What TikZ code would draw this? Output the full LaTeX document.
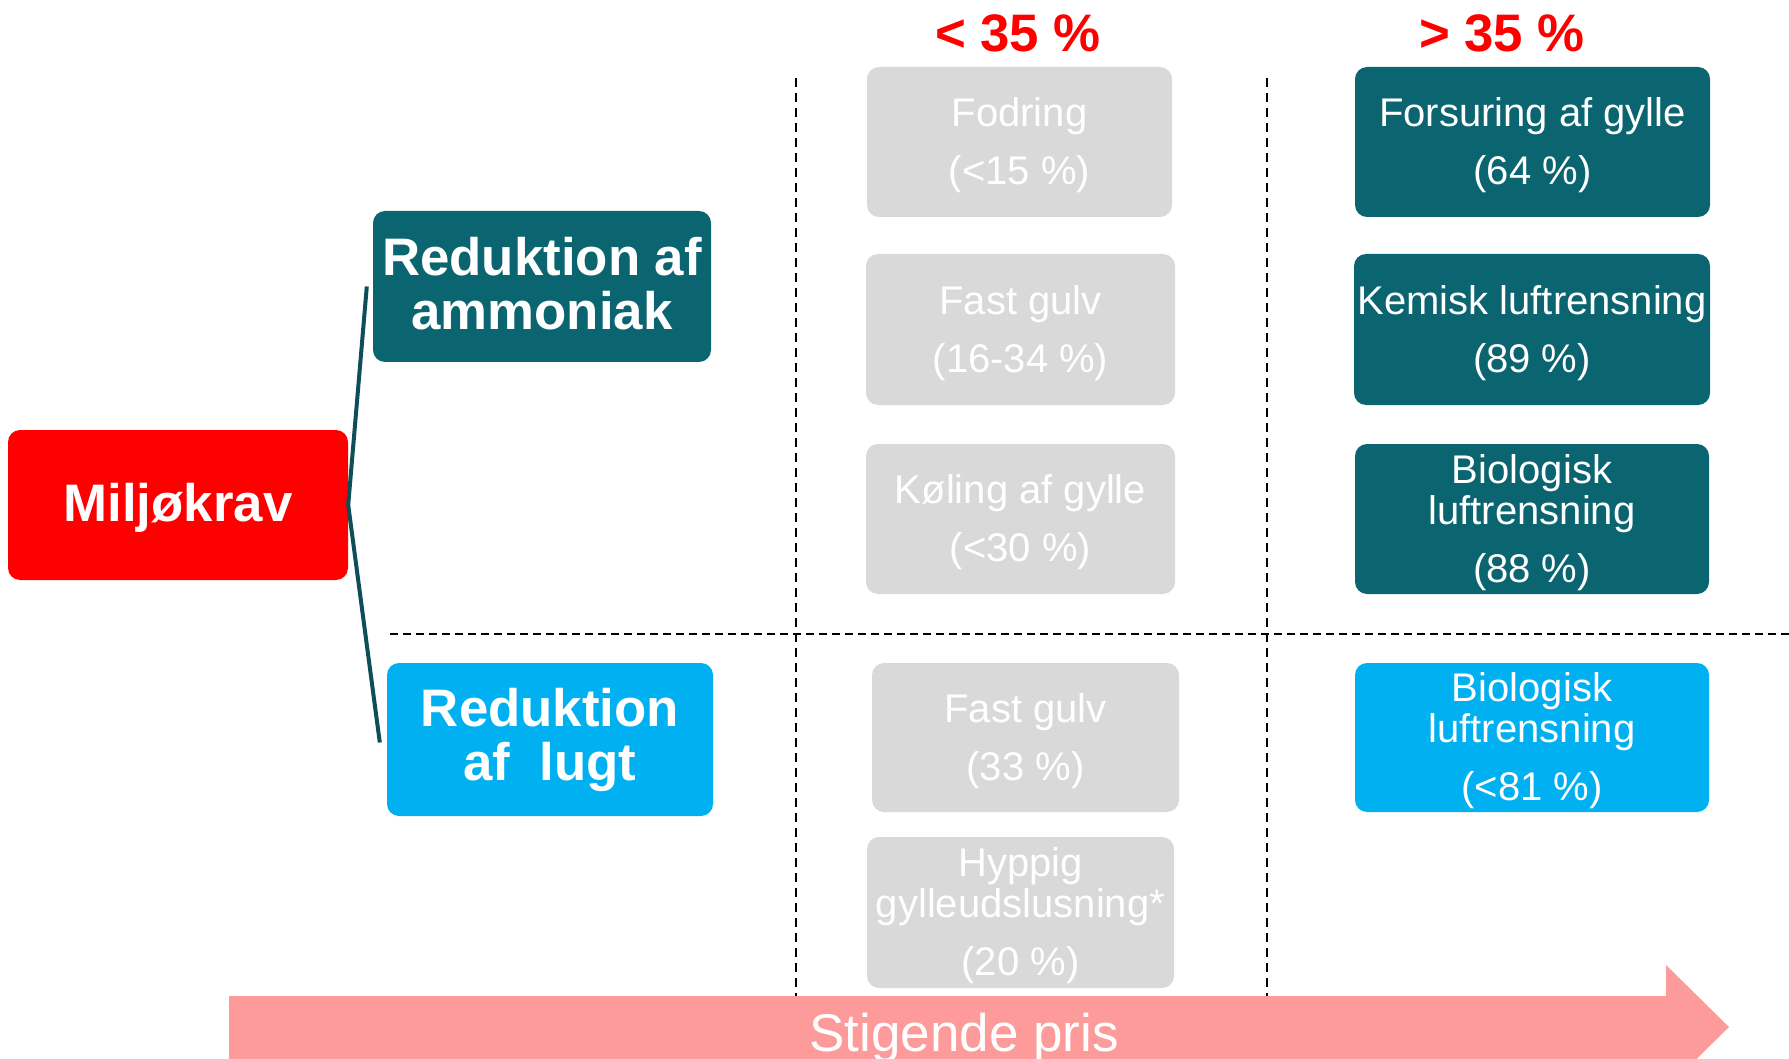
\documentclass[tikz,border=0pt]{standalone}
\usepackage{fontspec}
\setmainfont{Liberation Sans}
\definecolor{tealbox}{HTML}{0B6570}
\definecolor{tealline}{HTML}{0C4F58}
\definecolor{redbox}{HTML}{FF0000}
\definecolor{bluebox}{HTML}{00B0F0}
\definecolor{graybox}{HTML}{D9D9D9}
\definecolor{arrowpink}{HTML}{FD9B9B}
\tikzset{
  anybox/.style={rounded corners=12pt, inner sep=0pt, align=center, text=white},
  headtext/.style={inner sep=0pt, align=center, text=white, font=\fontsize{52.8}{54}\selectfont\bfseries},
  itemtext/.style={inner sep=0pt, align=center, text=white, font=\fontsize{40}{41}\selectfont, yshift=-3.5pt},
  itembox/.style={anybox},
  graystyle/.style={itembox, fill=graybox},
  tealstyle/.style={itembox, fill=tealbox},
  bluestyle/.style={itembox, fill=bluebox},
  sep/.style={black, line width=2.2pt, dash pattern=on 9pt off 6pt},
  conn/.style={tealline, line width=4pt},
  pct/.style={text=redbox, font=\fontsize{52.8}{54}\selectfont\bfseries}
}
\begin{document}
\begin{tikzpicture}[x=1pt,y=-1pt]
\useasboundingbox (0,0) rectangle (1789,1059);
\clip (0,0) rectangle (1789,1059);

% separators
\draw[sep] (796,78) -- (796,1000);
\draw[sep] (1267,78) -- (1267,1000);
\draw[sep, dash pattern=on 8pt off 5pt] (390,634) -- (1789,634);

% header labels
\node[pct] (lo) at (1018,33.5) {< 35 \%};
\node[pct] (hi) at (1502,33.5) {> 35 \%};

% left boxes
\node[anybox, fill=redbox, minimum width=340pt, minimum height=150pt, label={[headtext, yshift=-3pt]center:{Miljøkrav}}] (miljo) at (178,505) {};
\node[anybox, fill=tealbox, minimum width=338pt, minimum height=151pt, label={[headtext, yshift=2.5pt]center:{Reduktion af\\ammoniak}}] (amm) at (542,286.5) {};
\node[anybox, fill=bluebox, minimum width=326pt, minimum height=153pt, label={[headtext]center:{Reduktion\\af\ \ lugt}}] (lugt) at (550,739.5) {};

% connectors
\draw[conn] (miljo.east) -- ([xshift=-6pt]amm.west);
\draw[conn] (miljo.east) -- ([xshift=-7pt,yshift=-3pt]lugt.west);

% gray boxes (< 35 %)
\node[graystyle, minimum width=305pt, minimum height=150pt, label={[itemtext]center:{Fodring\\[17pt](<15 \%)}}] (g1) at (1019.5,142) {};
\node[graystyle, minimum width=309pt, minimum height=151pt, label={[itemtext]center:{Fast gulv\\[17pt](16-34 \%)}}] (g2) at (1020.5,329.5) {};
\node[graystyle, minimum width=309pt, minimum height=150pt, label={[itemtext]center:{Køling af gylle\\[17pt](<30 \%)}}] (g3) at (1020.5,519) {};
\node[graystyle, minimum width=307pt, minimum height=149pt, label={[itemtext]center:{Fast gulv\\[17pt](33 \%)}}] (g4) at (1025.5,737.5) {};
\node[graystyle, minimum width=307pt, minimum height=151pt, label={[itemtext]center:{Hyppig\\gylleudslusning*\\[17pt](20 \%)}}] (g5) at (1020.5,912.5) {};

% teal / blue boxes (> 35 %)
\node[tealstyle, minimum width=355pt, minimum height=150pt, label={[itemtext]center:{Forsuring af gylle\\[17pt](64 \%)}}] (t1) at (1532.5,142) {};
\node[tealstyle, minimum width=356pt, minimum height=151pt, label={[itemtext]center:{Kemisk luftrensning\\[17pt](89 \%)}}] (t2) at (1532,329.5) {};
\node[tealstyle, minimum width=354pt, minimum height=150pt, label={[itemtext]center:{Biologisk\\luftrensning\\[17pt](88 \%)}}] (t3) at (1532,519) {};
\node[bluestyle, minimum width=354pt, minimum height=149pt, label={[itemtext]center:{Biologisk\\luftrensning\\[17pt](<81 \%)}}] (b1) at (1532,737.5) {};

% price arrow
\fill[arrowpink] (229,996) -- (1666,996) -- (1666,965) -- (1729,1027) -- (1666,1089) -- (1666,1059) -- (229,1059) -- cycle;
\node[text=white, font=\fontsize{53}{55}\selectfont] (pris) at (964,1038) {Stigende pris};
\end{tikzpicture}
\end{document}
